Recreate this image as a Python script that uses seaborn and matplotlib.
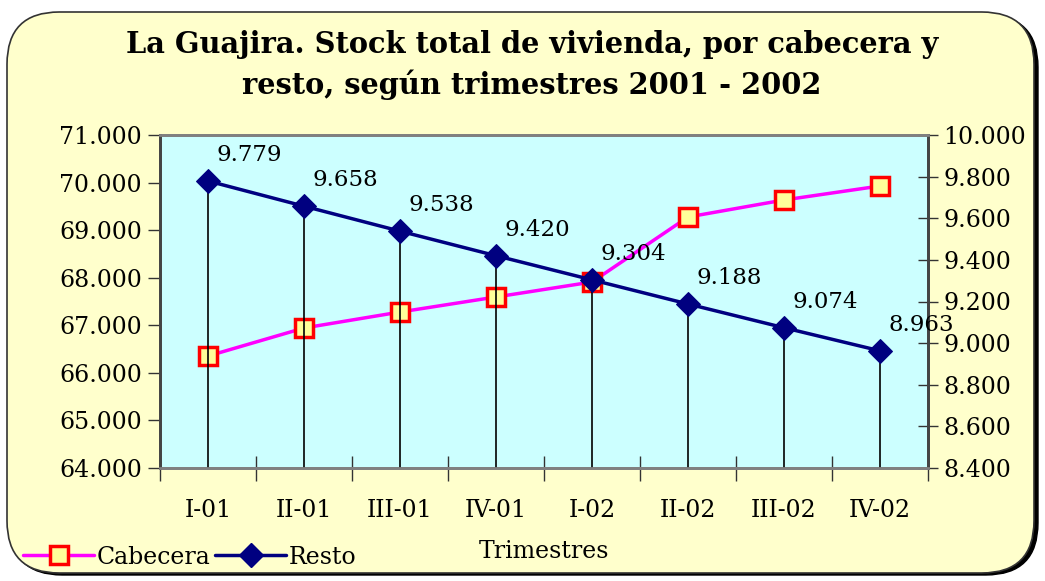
import numpy as np
import matplotlib
matplotlib.use("Agg")
import matplotlib.pyplot as plt
from matplotlib.patches import FancyBboxPatch
from matplotlib.ticker import FuncFormatter, FixedLocator, MultipleLocator
from matplotlib.lines import Line2D
import seaborn as sns

# ── Data ─────────────────────────────────────────────────────────────────────
trimestres = ["I-01", "II-01", "III-01", "IV-01", "I-02", "II-02", "III-02", "IV-02"]
cabecera = [66354, 66943, 67279, 67595, 67910, 69276, 69634, 69928]
resto = [9779, 9658, 9538, 9420, 9304, 9188, 9074, 8963]

TITLE = "La Guajira. Stock total de vivienda, por cabecera y\nresto, según trimestres 2001 - 2002"
PINK, NAVY = "#FF00FF", "#000080"
BG_BOX, BG_PLOT = "#FFFFCC", "#CCFFFF"
FS = 17

sns.set_style("white")
plt.rcParams["font.family"] = ["DejaVu Serif"]
plt.rcParams["font.size"] = FS
plt.rcParams["text.color"] = "black"
plt.rcParams["axes.labelcolor"] = "black"
plt.rcParams["xtick.color"] = "black"
plt.rcParams["ytick.color"] = "black"


def miles(v, _pos):
    return f"{v:,.0f}".replace(",", ".")


fig = plt.figure(figsize=(10.45, 5.81), dpi=100)

# rounded yellow panel with shadow
W, H = 1045, 581
shadow = FancyBboxPatch((10 / W, 6 / H), 1028 / W, 560 / H,
                        boxstyle="round,pad=0,rounding_size=0.05",
                        transform=fig.transFigure, facecolor="black",
                        edgecolor="black", mutation_aspect=W / H, zorder=-3)
panel = FancyBboxPatch((7 / W, 8 / H), 1027 / W, 561 / H,
                       boxstyle="round,pad=0,rounding_size=0.05",
                       transform=fig.transFigure, facecolor=BG_BOX,
                       edgecolor="#333333", linewidth=1.2,
                       mutation_aspect=W / H, zorder=-2)
fig.patches.extend([shadow, panel])

ax = fig.add_axes([160 / W, 1 - 468 / H, 768 / W, 333 / H])
ax.set_facecolor(BG_PLOT)
ax2 = ax.twinx()

sns.lineplot(x=trimestres, y=cabecera, ax=ax, color=PINK, lw=2.5,
             marker="s", markersize=13, markerfacecolor="#FFFF99",
             markeredgecolor="#FF0000", markeredgewidth=2.5, zorder=3)
ax2.vlines(trimestres, 8400, resto, color="black", lw=1.2, zorder=2)
sns.lineplot(x=trimestres, y=resto, ax=ax2, color=NAVY, lw=2.5,
             marker="D", markersize=12, markerfacecolor=NAVY,
             markeredgecolor=NAVY, zorder=4)

for i, v in enumerate(resto):
    ax2.annotate(miles(v, None), (i, v), xytext=(41, 26),
                 textcoords="offset pixels", ha="center", va="center",
                 fontsize=16.5)

ax.set_xlim(-0.5, len(trimestres) - 0.5)
ax.set_ylim(64000, 71000)
ax2.set_ylim(8400, 10000)
ax.yaxis.set_major_locator(MultipleLocator(1000))
ax2.yaxis.set_major_locator(MultipleLocator(200))
ax.yaxis.set_major_formatter(FuncFormatter(miles))
ax2.yaxis.set_major_formatter(FuncFormatter(miles))

ax.xaxis.set_minor_locator(FixedLocator(np.arange(-0.5, len(trimestres), 1)))
ax.tick_params(axis="x", which="major", length=0, pad=22, labelsize=FS)
ax.tick_params(axis="x", which="minor", direction="inout", length=18,
               width=1, color="#333333", bottom=True)
ax.tick_params(axis="y", direction="out", length=9, width=1,
               color="#333333", left=True, labelsize=FS, pad=4)
ax2.tick_params(axis="y", direction="inout", length=14, width=1,
                color="#333333", right=True, labelsize=FS, pad=4)
ax.set_xlabel("Trimestres", fontsize=FS, labelpad=13)
ax.set_ylabel("")
ax2.set_ylabel("")

for a in (ax, ax2):
    for s in a.spines.values():
        s.set_color("#808080")
        s.set_linewidth(2)
    a.spines["left"].set_color("#444444")
    a.spines["right"].set_color("#444444")

fig.text(532 / W, 1 - 65 / H, TITLE, ha="center", va="center",
         fontsize=20.8, fontweight="bold", linespacing=1.4)

handles = [
    Line2D([], [], color=PINK, lw=2.5, marker="s", markersize=13,
           markerfacecolor="#FFFF99", markeredgecolor="#FF0000",
           markeredgewidth=2.5),
    Line2D([], [], color=NAVY, lw=2.5, marker="D", markersize=12,
           markerfacecolor=NAVY, markeredgecolor=NAVY),
]
fig.legend(handles, ["Cabecera", "Resto"], loc="center left",
           bbox_to_anchor=(14 / W, 1 - 557 / H), ncol=2, frameon=False,
           fontsize=FS, handlelength=3.0, handletextpad=0.1,
           columnspacing=0.2, borderaxespad=0)

fig.savefig("out.png", dpi=100)
